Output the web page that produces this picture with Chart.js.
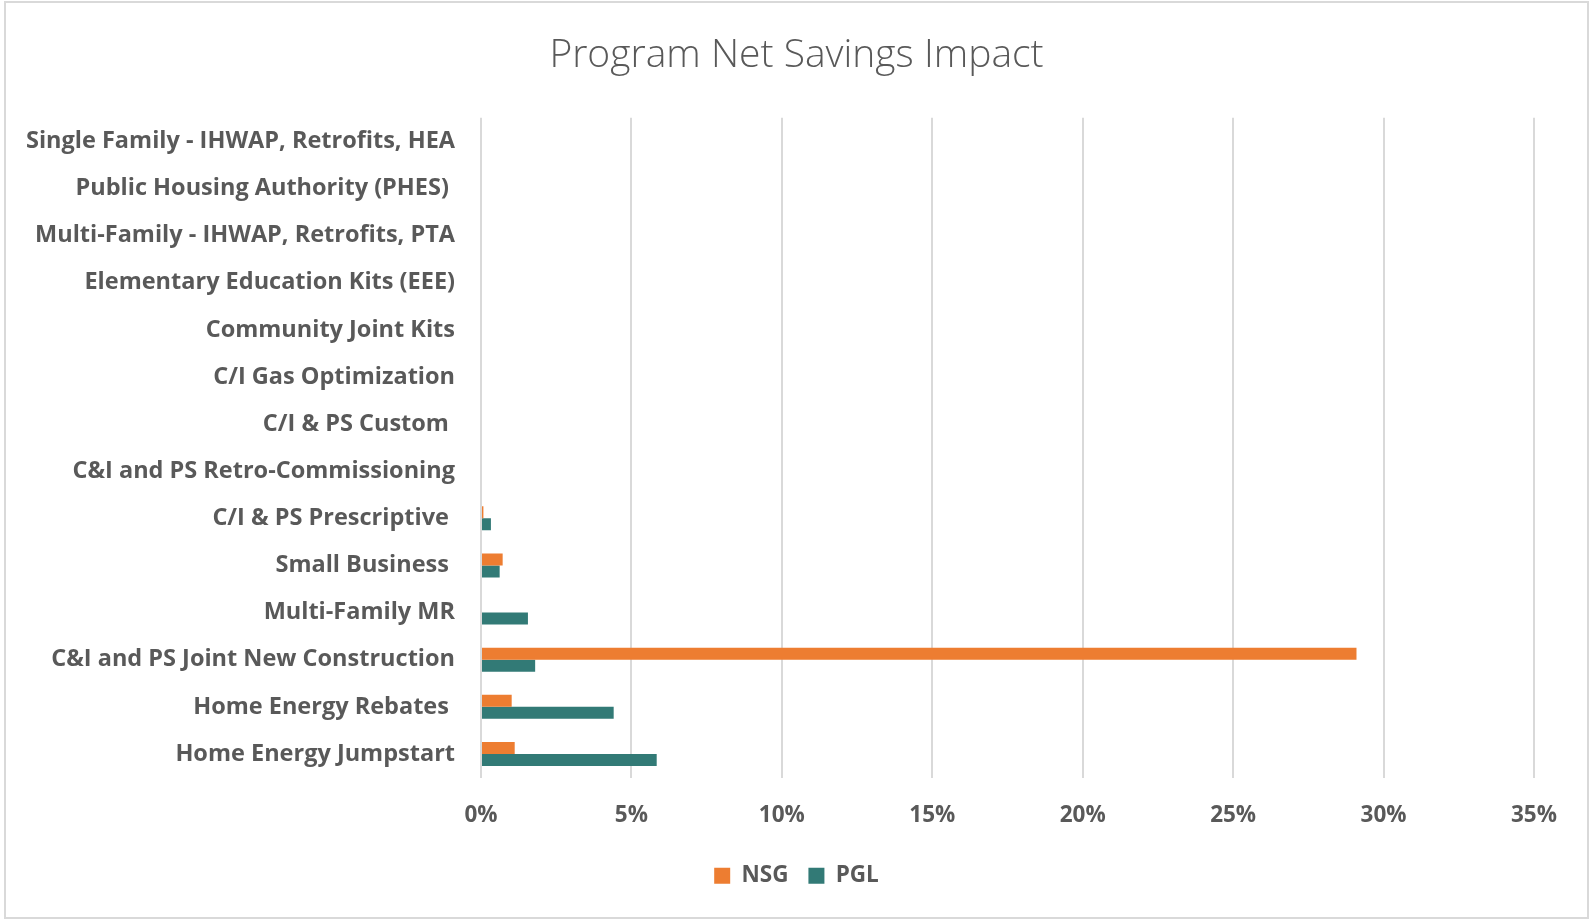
<!DOCTYPE html>
<html>
<head>
<meta charset="utf-8">
<script src="https://cdn.jsdelivr.net/npm/chart.js@4.4.1/dist/chart.umd.min.js"></script>
<style>
  html, body { margin: 0; padding: 0; background: #fff; }
  #wrap { width: 1593px; height: 920px; position: relative; }
</style>
</head>
<body>
<div id="wrap"><canvas id="chart" width="1593" height="920"></canvas></div>
<script>
// categories top to bottom, as in the picture (trailing spaces kept)
const programs = [
  'Single Family - IHWAP, Retrofits, HEA',
  'Public Housing Authority (PHES) ',
  'Multi-Family - IHWAP, Retrofits, PTA',
  'Elementary Education Kits (EEE)',
  'Community Joint Kits',
  'C/I Gas Optimization',
  'C/I & PS Custom ',
  'C&I and PS Retro-Commissioning',
  'C/I & PS Prescriptive ',
  'Small Business ',
  'Multi-Family MR',
  'C&I and PS Joint New Construction',
  'Home Energy Rebates ',
  'Home Energy Jumpstart'
];
// net savings impact, fraction of total
const nsgValues = [0, 0, 0, 0, 0, 0, 0, 0, 0.0008, 0.0072, 0, 0.291, 0.0102, 0.0112];
const pglValues = [0, 0, 0, 0, 0, 0, 0, 0, 0.0033, 0.0062, 0.0156, 0.018, 0.0441, 0.0584];
const xTicks = [0, 0.05, 0.10, 0.15, 0.20, 0.25, 0.30, 0.35];

const textColor = '#595959';
const labelFont = '"Open Sans", Lato, sans-serif';

// grey frame round the whole chart
const framePlugin = {
  id: 'frame',
  afterDraw(chart) {
    const ctx = chart.ctx;
    ctx.save();
    ctx.strokeStyle = '#d9d9d9';
    ctx.lineWidth = 2;
    ctx.strokeRect(5, 2, 1583, 916);
    ctx.restore();
  }
};

new Chart(document.getElementById('chart'), {
  type: 'bar',
  data: {
    labels: programs,
    datasets: [
      { label: 'NSG', data: nsgValues, backgroundColor: '#ed7d31', borderWidth: 0 },
      { label: 'PGL', data: pglValues, backgroundColor: '#327a76', borderWidth: 0 }
    ]
  },
  options: {
    indexAxis: 'y',
    responsive: false,
    animation: false,
    // equal side padding so title and legend sit in the middle of the canvas
    layout: { padding: { left: 20, right: 20, top: 0, bottom: 23 } },
    categoryPercentage: 0.51,
    barPercentage: 1,
    plugins: {
      title: {
        display: true,
        text: 'Program Net Savings Impact',
        color: textColor,
        font: { family: labelFont, size: 39, weight: '300' },
        padding: { top: 32, bottom: 39 }
      },
      legend: {
        position: 'bottom',
        labels: {
          color: textColor,
          font: { family: labelFont, size: 22.5, weight: 'bold' },
          boxWidth: 16,
          boxHeight: 16,
          padding: 20
        }
      },
      tooltip: { enabled: false }
    },
    scales: {
      x: {
        min: 0,
        max: 0.35,
        afterBuildTicks(scale) { scale.ticks = xTicks.map(v => ({ value: v })); },
        afterFit(scale) { scale.height = 67; },
        border: { display: false },
        grid: { color: '#d9d9d9', lineWidth: 2, drawTicks: false },
        ticks: {
          color: textColor,
          padding: 25,
          font: { family: labelFont, size: 22.5, weight: 'bold' },
          callback: v => Math.round(v * 100) + '%'
        }
      },
      y: {
        afterFit(scale) { scale.width = 461; },
        border: { display: false },
        grid: { display: false, drawTicks: false },
        ticks: {
          color: textColor,
          padding: 26,
          font: { family: labelFont, size: 23.5, weight: 'bold' }
        }
      },
      // empty spacer on the right so the plot ends at the 35% line
      spacer: {
        type: 'linear',
        position: 'right',
        afterFit(scale) { scale.width = 39; },
        border: { display: false },
        grid: { display: false, drawTicks: false },
        ticks: { display: false }
      }
    }
  },
  plugins: [framePlugin]
});
</script>
</body>
</html>
